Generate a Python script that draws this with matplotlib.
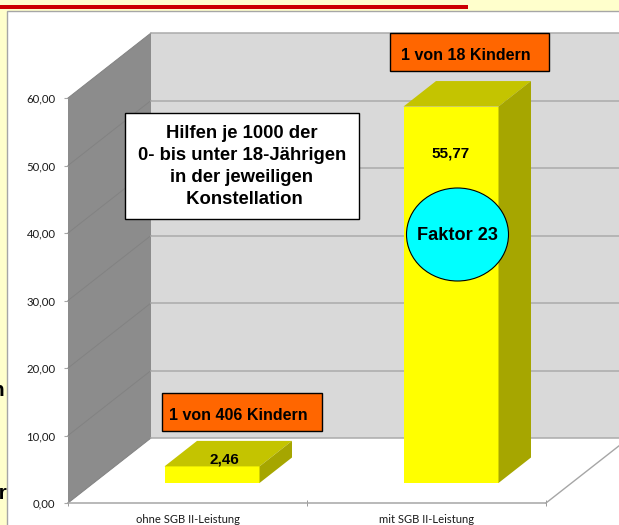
import matplotlib
matplotlib.use("Agg")
import matplotlib.pyplot as plt
from matplotlib.patches import Polygon, Rectangle, Ellipse

categories = ["ohne SGB II-Leistung", "mit SGB II-Leistung"]
values = [2.46, 55.77]
value_labels = ["2,46", "55,77"]
yticks = [0, 10, 20, 30, 40, 50, 60]
ytick_labels = ["0,00", "10,00", "20,00", "30,00", "40,00", "50,00", "60,00"]

W, H = 619, 525
fig = plt.figure(figsize=(W / 100, H / 100), dpi=100, facecolor="#FFFFCC")

# page decoration layer in pixel coordinates
bg = fig.add_axes([0, 0, 1, 1], zorder=0)
bg.set_xlim(0, W); bg.set_ylim(H, 0); bg.axis("off")
bg.text(4, 396, "n", fontsize=15, fontweight="bold", family="Liberation Sans", va="baseline", ha="right", color="black", zorder=1)
bg.text(7.5, 499, "er", fontsize=15, fontweight="bold", family="Liberation Sans", va="baseline", ha="right", color="black", zorder=1)
bg.add_patch(Rectangle((7, 11), W, H, fc="white", ec="#A6A6A6", lw=1, zorder=2))
bg.add_patch(Rectangle((0, 4.5), 468, 4, fc="#CC0000", ec="none", zorder=2))

# chart axes: the front plane
L, R, T, B = 68, 546, 98, 503
ax = fig.add_axes([L / W, 1 - B / H, (R - L) / W, (B - T) / H], zorder=1)
ax.set_xlim(-0.5, 1.5); ax.set_ylim(0, 60)
ax.patch.set_alpha(0)
px = 2 / (R - L)
py = 60 / (B - T)
DX, DY = 83 * px, 65 * py
x0, x1 = -0.5, 1.5
far = x1 + 90 * px

ax.add_patch(Polygon([(x0, 0), (x0 + DX, DY), (x0 + DX, 60 + DY), (x0, 60)],
                     fc="#8C8C8C", ec="none", clip_on=False, zorder=1))
ax.add_patch(Polygon([(x0 + DX, DY), (far, DY), (far, 60 + DY), (x0 + DX, 60 + DY)],
                     fc="#D9D9D9", ec="none", clip_on=False, zorder=1))
for t in yticks:
    ax.plot([x0, x0 + DX], [t, t + DY], color="#828282", lw=0.7, clip_on=False, zorder=2)
    ax.plot([x0 + DX, far], [t + DY, t + DY], color="#ABABAB", lw=1.1, clip_on=False, zorder=2)
ax.plot([x1, x1 + DX], [0, DY], color="#A6A6A6", lw=1, clip_on=False, zorder=2)

# bars
lift = 20 * py
shift = 24.5 * px
width = 95 * px
ddx, ddy = 32.5 * px, 25.5 * py
pos = [0, 1]
ax.bar([p + shift for p in pos], values, width=width, bottom=lift,
       color="#FFFF00", edgecolor="none", clip_on=False, zorder=4)
for p, v in zip(pos, values):
    a = p + shift - width / 2
    b = p + shift + width / 2
    top = lift + v
    ax.add_patch(Polygon([(a, top), (b, top), (b + ddx, top + ddy), (a + ddx, top + ddy)],
                         fc="#C4C400", ec="none", clip_on=False, zorder=4))
    ax.add_patch(Polygon([(b, lift), (b + ddx, lift + ddy), (b + ddx, top + ddy), (b, top)],
                         fc="#A6A600", ec="none", clip_on=False, zorder=4))

for s in ["top", "right", "left"]:
    ax.spines[s].set_visible(False)
ax.spines["bottom"].set_color("#A6A6A6")
ax.spines["bottom"].set_linewidth(1.1)
ax.set_yticks(yticks, ytick_labels, fontsize=8.2, family="Lato", color="#1A1A1A")
ax.set_xticks([-0.5, 0.5, 1.5], ["", "", ""])
ax.set_xticks(pos, categories, minor=True, fontsize=8.1, family="Lato", color="#1A1A1A")
ax.tick_params(axis="x", which="minor", length=0, pad=8)
ax.tick_params(axis="x", which="major", length=5, color="#999999", direction="inout", pad=2, width=0.7)
ax.tick_params(axis="y", length=3, color="#A6A6A6", pad=6, width=0.8)

# annotation layer in pixel coordinates
fg = fig.add_axes([0, 0, 1, 1], zorder=2)
fg.set_xlim(0, W); fg.set_ylim(H, 0); fg.axis("off"); fg.patch.set_alpha(0)
font = dict(family="Liberation Sans", fontweight="bold", color="black")

fg.add_patch(Rectangle((124.5, 112.5), 234, 106, fc="white", ec="black", lw=1))
for y, line in zip([133, 155.5, 178, 200],
                   ["Hilfen je 1000 der", "0- bis unter 18-Jährigen",
                    "in der jeweiligen", " Konstellation"]):
    fg.text(242, y, line, ha="center", va="center", fontsize=13.3, **font)

fg.add_patch(Rectangle((390, 32.5), 159, 38, fc="#FF6600", ec="black", lw=1))
fg.text(466, 56, "1 von 18 Kindern", ha="center", va="center", fontsize=11.5, **font)
fg.add_patch(Rectangle((161.5, 392.5), 160, 38.5, fc="#FF6600", ec="black", lw=1))
fg.text(238.5, 415, "1 von 406 Kindern", ha="center", va="center", fontsize=11.5, **font)

fg.add_patch(Ellipse((457.5, 234.5), 102, 93, fc="#00FFFF", ec="black", lw=0.8))
fg.text(457, 235, "Faktor 23", ha="center", va="center", fontsize=13.1, **font)

fg.text(224, 460, value_labels[0], ha="center", va="center", fontsize=11, **font)
fg.text(451, 154, value_labels[1], ha="center", va="center", fontsize=11, **font)

fig.savefig("out.png", dpi=100, facecolor=fig.get_facecolor())
